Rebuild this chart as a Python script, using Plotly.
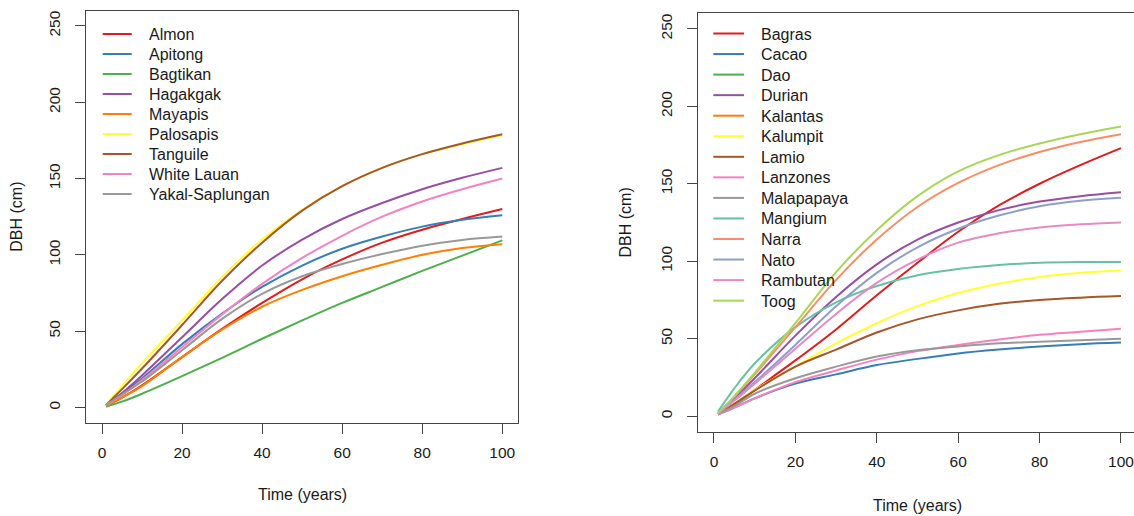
import plotly.graph_objects as go

W, H = 1134, 516

# ---------------- data ----------------
years = [1, 5, 10, 20, 30, 40, 50, 60, 70, 80, 90, 100]

left_names = ["Almon", "Apitong", "Bagtikan", "Hagakgak", "Mayapis",
              "Palosapis", "Tanguile", "White Lauan", "Yakal-Saplungan"]
left_colors = ["#E41A1C", "#377EB8", "#4DAF4A", "#984EA3", "#FF7F00",
               "#FFFF33", "#A65628", "#F781BF", "#999999"]
almon      = [1.0, 6.5, 14.5, 33.0, 51.5, 68.5, 84.0, 97.0, 108.0, 116.5, 123.5, 130.0]
apitong    = [1.5, 9.0, 19.0, 41.5, 61.5, 79.0, 93.0, 104.0, 112.0, 118.5, 123.0, 126.0]
bagtikan   = [0.5, 3.8, 9.0, 20.5, 32.5, 45.0, 57.0, 68.5, 79.0, 89.5, 99.5, 109.5]
hagakgak   = [1.5, 9.5, 21.0, 46.0, 71.0, 93.0, 110.0, 123.5, 134.0, 143.0, 150.5, 157.0]
mayapis    = [1.0, 6.5, 14.0, 33.0, 51.0, 66.0, 77.0, 86.0, 93.5, 100.0, 104.5, 107.0]
palosapis  = [1.5, 14.0, 29.0, 57.0, 85.5, 110.0, 129.5, 145.0, 157.0, 166.0, 172.5, 178.5]
tanguile   = [1.5, 12.0, 25.5, 54.0, 83.0, 108.0, 129.0, 145.0, 157.0, 166.0, 173.0, 179.0]
whitelauan = [1.5, 8.0, 18.0, 39.5, 61.0, 81.0, 98.0, 112.5, 125.0, 135.0, 143.0, 150.0]
yakal      = [1.5, 8.5, 17.0, 37.5, 58.0, 74.5, 86.0, 94.0, 100.5, 106.0, 109.8, 112.0]
left_values = [almon, apitong, bagtikan, hagakgak, mayapis,
               palosapis, tanguile, whitelauan, yakal]

right_names = ["Bagras", "Cacao", "Dao", "Durian", "Kalantas", "Kalumpit", "Lamio",
               "Lanzones", "Malapapaya", "Mangium", "Narra", "Nato", "Rambutan", "Toog"]
right_colors = ["#E41A1C", "#377EB8", "#4DAF4A", "#984EA3", "#FF7F00", "#FFFF33",
                "#A65628", "#F781BF", "#999999", "#66C2A5", "#FC8D62", "#8DA0CB",
                "#E78AC3", "#A6D854"]
bagras     = [1.5, 7.5, 17.0, 36.0, 56.0, 78.0, 99.0, 119.0, 136.0, 150.0, 162.0, 173.0]
cacao      = [1.0, 5.5, 11.5, 21.0, 27.0, 33.0, 37.0, 40.5, 43.0, 45.0, 46.5, 47.5]
dao        = []
durian     = [2.0, 11.5, 24.5, 52.0, 77.0, 98.0, 114.0, 125.0, 133.0, 138.5, 142.0, 144.5]
kalantas   = []
kalumpit   = [1.5, 8.0, 17.0, 32.0, 47.0, 60.0, 71.0, 79.5, 85.5, 89.8, 92.5, 94.0]
lamio      = [1.5, 8.0, 16.5, 32.0, 43.0, 54.0, 62.5, 68.3, 72.5, 75.0, 76.5, 77.5]
lanzones   = [1.0, 5.5, 11.5, 22.0, 29.5, 36.5, 42.0, 46.0, 49.5, 52.5, 54.5, 56.5]
malapapaya = [1.5, 6.5, 14.5, 24.5, 32.0, 38.5, 42.5, 45.0, 47.0, 48.0, 49.0, 50.0]
mangium    = [3.0, 18.0, 34.0, 57.5, 73.5, 84.0, 91.0, 95.0, 97.5, 99.0, 99.5, 99.5]
narra      = [2.0, 12.5, 27.0, 57.5, 88.0, 114.0, 135.0, 150.5, 162.0, 170.5, 177.0, 182.0]
nato       = [2.0, 10.5, 22.0, 46.0, 71.0, 92.5, 109.0, 121.0, 129.5, 135.5, 139.0, 141.0]
rambutan   = [2.0, 10.0, 21.0, 43.5, 66.0, 86.0, 101.0, 112.0, 118.0, 121.8, 123.8, 125.0]
toog       = [2.0, 13.0, 28.0, 60.0, 93.0, 120.0, 142.0, 158.0, 168.5, 176.0, 182.0, 187.0]
right_values = [bagras, cacao, dao, durian, kalantas, kalumpit, lamio, lanzones,
                malapapaya, mangium, narra, nato, rambutan, toog]

x_ticks = [0, 20, 40, 60, 80, 100]
y_ticks = [0, 50, 100, 150, 200, 250]

# ---------------- figure ----------------
FONT = "Liberation Sans, Arial, sans-serif"
AX = "#444444"
TXT = "#1a1a1a"

fig = go.Figure()

for name, col, vals in zip(left_names, left_colors, left_values):
    fig.add_trace(go.Scatter(x=years[:len(vals)], y=vals, mode="lines", name=name,
                             line=dict(color=col, width=2, shape="spline", smoothing=1.0),
                             xaxis="x", yaxis="y", showlegend=False))
for name, col, vals in zip(right_names, right_colors, right_values):
    fig.add_trace(go.Scatter(x=years[:len(vals)], y=vals, mode="lines", name=name,
                             line=dict(color=col, width=2, shape="spline", smoothing=1.0),
                             xaxis="x2", yaxis="y2", showlegend=False))


def px_x(p):
    return p / W


def px_y(p):
    return 1 - p / H


common_x = dict(showline=True, linecolor=AX, linewidth=1, ticks="outside", ticklen=10,
                tickcolor=AX, tickwidth=1, showgrid=False, zeroline=False,
                tickvals=x_ticks, ticklabelstandoff=6, ticklabeloverflow="allow",
                tickfont=dict(family=FONT, size=15.5, color=TXT))
common_y = dict(showline=True, linecolor=AX, linewidth=1, ticks="outside", ticklen=10,
                tickcolor=AX, tickwidth=1, showgrid=False, zeroline=False,
                tickvals=y_ticks, tickangle=-90, ticklabelstandoff=9,
                ticklabeloverflow="allow",
                tickfont=dict(family=FONT, size=15.5, color=TXT))

fig.update_layout(
    width=W, height=H, margin=dict(l=0, r=0, t=0, b=0),
    paper_bgcolor="white", plot_bgcolor="white", showlegend=False,
    xaxis=dict(domain=[px_x(86), px_x(518.3)], range=[-4, 104], anchor="y",
               mirror=True, **common_x),
    yaxis=dict(domain=[px_y(422.7), px_y(10.7)], range=[-10, 260], anchor="x",
               mirror=True, **common_y),
    xaxis2=dict(domain=[px_x(697.7), 1.0], range=[-4, 103.2], anchor="y2",
                mirror=True, **common_x),
    yaxis2=dict(domain=[px_y(431.7), px_y(13.3)], range=[-10, 260], anchor="x2",
                mirror=False, **common_y),
)

annotations = []
shapes = []

# axis titles
for (cx, cy, txt, ang) in [(17, 216.7, "DBH (cm)", -90), (302, 494, "Time (years)", 0),
                           (625, 222.5, "DBH (cm)", -90), (917, 505, "Time (years)", 0)]:
    annotations.append(dict(x=px_x(cx), y=px_y(cy), xref="paper", yref="paper",
                            text=txt, showarrow=False, textangle=ang,
                            xanchor="center", yanchor="middle",
                            font=dict(family=FONT, size=16, color=TXT)))

# legends (drawn in the R style, inside each panel)
def add_legend(names, colors, x0, x1, xt, ytop, step):
    for i, (n, c) in enumerate(zip(names, colors)):
        yy = ytop + i * step
        shapes.append(dict(type="line", xref="paper", yref="paper",
                           x0=px_x(x0), x1=px_x(x1), y0=px_y(yy), y1=px_y(yy),
                           line=dict(color=c, width=2)))
        annotations.append(dict(x=px_x(xt), y=px_y(yy + 0.5), xref="paper", yref="paper",
                                text=n, showarrow=False, xanchor="left", yanchor="middle",
                                font=dict(family=FONT, size=16, color=TXT)))


add_legend(left_names, left_colors, 102.7, 131.7, 146.5, 34.0, 20.0)
add_legend(right_names, right_colors, 713.3, 744.0, 759.0, 33.5, 20.55)

fig.update_layout(annotations=annotations, shapes=shapes)

fig.write_html("out.html")
